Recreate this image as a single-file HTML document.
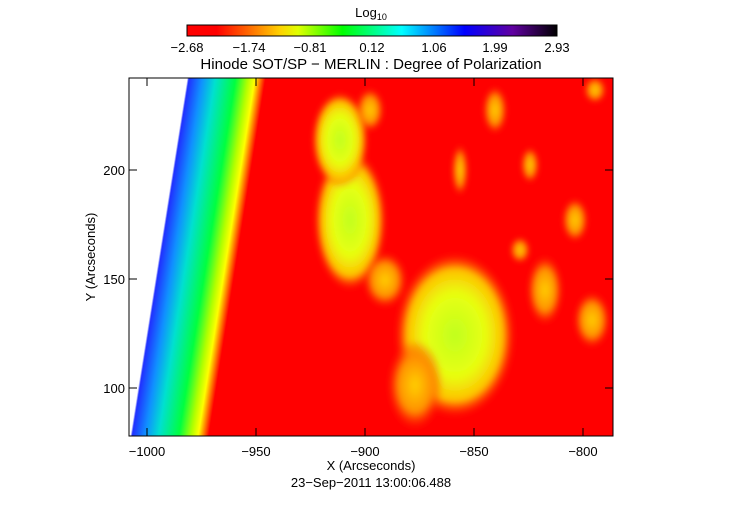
<!DOCTYPE html>
<html><head><meta charset="utf-8"><style>
body{margin:0;background:#fff;width:742px;height:512px;overflow:hidden}
svg text{font-family:"Liberation Sans",sans-serif;fill:#000}
</style></head><body>
<svg width="742" height="512" viewBox="0 0 742 512" xmlns="http://www.w3.org/2000/svg">
<defs>
<linearGradient id="cb" x1="0" x2="1">
<stop offset="0" stop-color="#ff0000"/><stop offset="0.08" stop-color="#ff0000"/>
<stop offset="0.16" stop-color="#ff6000"/><stop offset="0.25" stop-color="#ffd000"/>
<stop offset="0.3" stop-color="#e0ff00"/><stop offset="0.42" stop-color="#00ff00"/>
<stop offset="0.58" stop-color="#00ffff"/><stop offset="0.75" stop-color="#0000ff"/>
<stop offset="0.88" stop-color="#6000a0"/><stop offset="1" stop-color="#000000"/>
</linearGradient>
<linearGradient id="limb" gradientUnits="userSpaceOnUse" x1="190" x2="278" y1="0" y2="0">
<stop offset="0" stop-color="#ffffff"/><stop offset="0.11" stop-color="#ffffff"/>
<stop offset="0.13" stop-color="#2030ff"/><stop offset="0.28" stop-color="#1090ff"/>
<stop offset="0.43" stop-color="#00e0d0"/><stop offset="0.66" stop-color="#00ff40"/>
<stop offset="0.8" stop-color="#b0ff00"/><stop offset="0.88" stop-color="#ffff00"/>
<stop offset="0.94" stop-color="#ff8000"/><stop offset="1" stop-color="#ff0000"/>
</linearGradient>
<radialGradient id="spot"><stop offset="0" stop-color="#c0ff20"/><stop offset="0.5" stop-color="#e8ff10"/><stop offset="0.8" stop-color="#ffc000"/><stop offset="1" stop-color="#ff3000" stop-opacity="0"/></radialGradient>
<radialGradient id="org"><stop offset="0" stop-color="#ffd000"/><stop offset="0.6" stop-color="#ff9000"/><stop offset="1" stop-color="#ff2000" stop-opacity="0"/></radialGradient>
<filter id="bl"><feGaussianBlur stdDeviation="3"/></filter>
<clipPath id="pc"><rect x="129" y="78" width="484" height="358"/></clipPath>
</defs>
<text x="371" y="17" font-size="13" text-anchor="middle">Log<tspan font-size="9" dy="3">10</tspan></text>
<rect x="187" y="25" width="370" height="11" fill="url(#cb)" stroke="#000" stroke-width="1"/>
<g font-size="13" text-anchor="middle">
<text x="187" y="52">−2.68</text><text x="249" y="52">−1.74</text><text x="310" y="52">−0.81</text><text x="372" y="52">0.12</text><text x="434" y="52">1.06</text><text x="495" y="52">1.99</text><text x="557" y="52">2.93</text>
</g>
<text x="371" y="69" font-size="15" text-anchor="middle">Hinode SOT/SP − MERLIN : Degree of Polarization</text>
<g clip-path="url(#pc)">
<rect x="129" y="78" width="484" height="358" fill="#ff0000"/>
<g transform="matrix(1,0,-0.159,1,0,0)">
<rect x="129" y="70" width="149" height="380" fill="url(#limb)"/>
</g>
<g filter="url(#bl)">
<ellipse cx="455" cy="335" rx="60" ry="82" fill="url(#spot)"/>
<ellipse cx="415" cy="385" rx="28" ry="45" fill="url(#org)"/>
<ellipse cx="350" cy="220" rx="36" ry="70" fill="url(#spot)"/>
<ellipse cx="340" cy="140" rx="28" ry="48" fill="url(#spot)"/>
<ellipse cx="385" cy="280" rx="22" ry="28" fill="url(#org)"/>
<ellipse cx="370" cy="110" rx="14" ry="22" fill="url(#org)"/>
<ellipse cx="495" cy="110" rx="12" ry="24" fill="url(#org)"/>
<ellipse cx="545" cy="290" rx="18" ry="35" fill="url(#org)"/>
<ellipse cx="592" cy="320" rx="18" ry="28" fill="url(#org)"/>
<ellipse cx="575" cy="220" rx="13" ry="22" fill="url(#org)"/>
<ellipse cx="460" cy="170" rx="8" ry="26" fill="url(#org)"/>
<ellipse cx="530" cy="165" rx="9" ry="18" fill="url(#org)"/>
<ellipse cx="595" cy="90" rx="11" ry="13" fill="url(#org)"/>
<ellipse cx="520" cy="250" rx="10" ry="13" fill="url(#org)"/>
</g>
</g>
<rect x="129" y="78" width="484" height="358" fill="none" stroke="#000" stroke-width="1"/>
<g stroke="#000" stroke-width="1">
<path d="M147 436v-8M256 436v-8M365 436v-8M474 436v-8M583 436v-8M147 78v8M256 78v8M365 78v8M474 78v8M583 78v8"/>
<path d="M129 388h8M129 279h8M129 170h8M613 388h-8M613 279h-8M613 170h-8"/>
</g>
<g font-size="13" text-anchor="middle">
<text x="147" y="456">−1000</text><text x="256" y="456">−950</text><text x="365" y="456">−900</text><text x="474" y="456">−850</text><text x="583" y="456">−800</text>
<text x="371" y="470">X (Arcseconds)</text>
<text x="371" y="487">23−Sep−2011 13:00:06.488</text>
</g>
<g font-size="13" text-anchor="end">
<text x="125" y="393">100</text><text x="125" y="284">150</text><text x="125" y="175">200</text>
</g>
<text transform="translate(95,257) rotate(-90)" font-size="13" text-anchor="middle">Y (Arcseconds)</text>
</svg>
</body></html>
